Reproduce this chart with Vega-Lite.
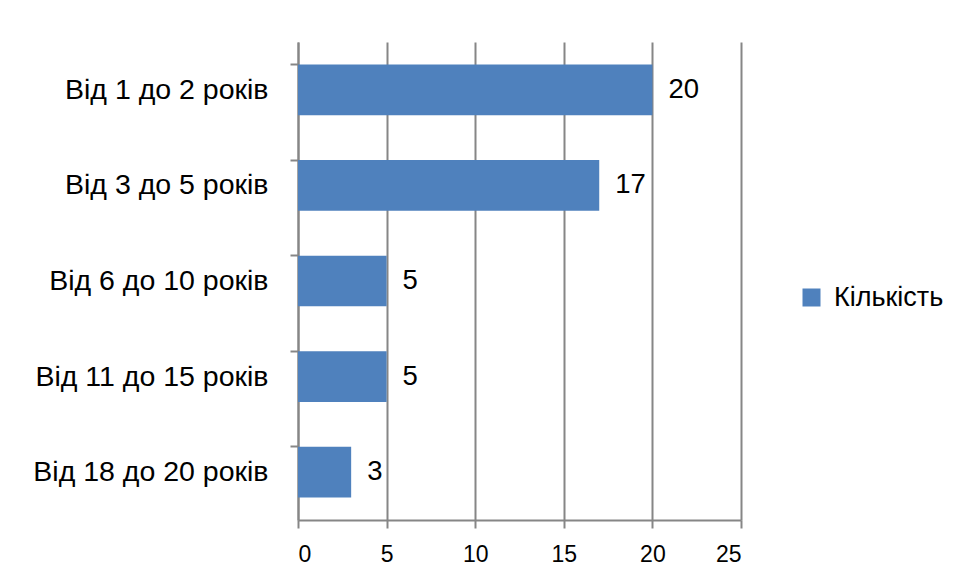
{
  "$schema": "https://vega.github.io/schema/vega-lite/v6.json",
  "autosize": "none",
  "width": 443,
  "height": 478,
  "padding": {"left": 298, "top": 42, "right": 214, "bottom": 59},
  "background": "white",
  "data": {"values": [
    {"category": "Від 1 до 2 років", "value": 20, "series": "Кількість"},
    {"category": "Від 3 до 5 років", "value": 17, "series": "Кількість"},
    {"category": "Від 6 до 10 років", "value": 5, "series": "Кількість"},
    {"category": "Від 11 до 15 років", "value": 5, "series": "Кількість"},
    {"category": "Від 18 до 20 років", "value": 3, "series": "Кількість"}
  ]},
  "config": {
    "font": "Liberation Sans",
    "view": {"stroke": null}
  },
  "encoding": {
    "y": {
      "field": "category", "type": "nominal", "sort": null, "title": null,
      "scale": {"paddingInner": 0.47, "paddingOuter": 0.235},
      "axis": {
        "bandPosition": 0, "tickSize": 8, "tickColor": "#868686", "tickWidth": 2,
        "domainColor": "#868686", "domainWidth": 2,
        "labelFontSize": 28.5, "labelColor": "#000000", "labelPadding": 22,
        "labelFont": "Liberation Sans", "labelLimit": 400
      }
    },
    "x": {
      "field": "value", "type": "quantitative", "title": null,
      "scale": {"domain": [0, 25], "nice": false},
      "axis": {
        "values": [0, 5, 10, 15, 20, 25], "tickSize": 8, "tickColor": "#868686", "tickWidth": 2,
        "domainColor": "#868686", "domainWidth": 2,
        "grid": true, "gridColor": "#868686", "gridWidth": 2,
        "labelFontSize": 23, "labelColor": "#000000", "labelPadding": 15,
        "labelFont": "Liberation Sans"
      }
    }
  },
  "layer": [
    {
      "mark": {"type": "bar", "color": "#4F81BD"},
      "encoding": {
        "color": {
          "field": "series", "type": "nominal", "title": null,
          "scale": {"range": ["#4F81BD"]},
          "legend": {
            "orient": "none", "legendX": 500, "legendY": 242,
            "symbolType": "square", "symbolSize": 324, "symbolStrokeWidth": 0,
            "labelFontSize": 27, "labelColor": "#000000", "labelOffset": 9,
            "labelFont": "Liberation Sans", "labelLimit": 400
          }
        }
      }
    },
    {
      "mark": {"type": "text", "align": "left", "baseline": "middle", "dx": 16, "fontSize": 27.5, "color": "#000000"},
      "encoding": {"text": {"field": "value", "type": "quantitative"}}
    }
  ]
}
